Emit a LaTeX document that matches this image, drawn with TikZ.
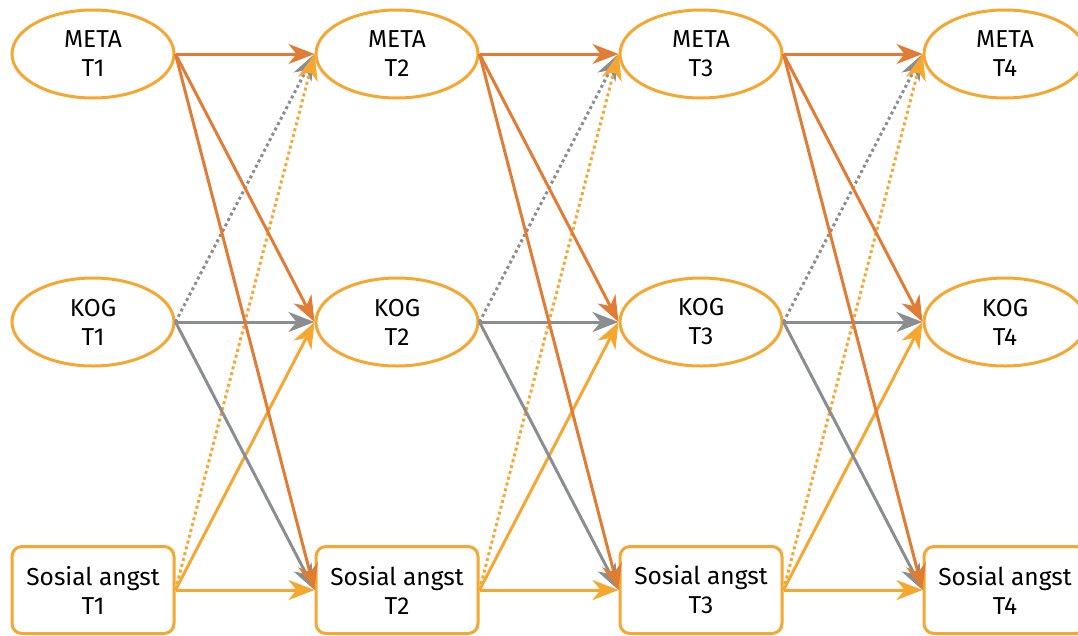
\documentclass[tikz,border=0pt]{standalone}
\usepackage{fontspec}
\setmainfont{Fira Sans}
\usetikzlibrary{positioning,arrows.meta,shapes.geometric}
\definecolor{gold}{HTML}{F5A732}
\definecolor{rust}{HTML}{E07C33}
\definecolor{slate}{HTML}{8B8E90}
\begin{document}
\begin{tikzpicture}[font=\fontsize{24.5}{29}\selectfont, node distance=139pt,
  ell/.style={draw=gold, ellipse, line width=3pt, align=center, minimum width=162pt, minimum height=88pt, inner sep=0pt},
  box/.style={draw=gold, rounded corners=10pt, line width=3pt, align=center, minimum width=162pt, minimum height=87pt, inner sep=0pt},
  arr/.style={-{Stealth[length=26pt, width=20pt, inset=8pt]}, line width=3pt},
  dot/.style={arr, dash pattern=on 3pt off 3pt}]
\useasboundingbox (0,0) rectangle (1078pt,-635pt);
% row META
\node[ell] (meta1) at (93pt,-54pt) {META\\T1};
\node[ell, right=of meta1] (meta2) {META\\T2};
\node[ell, right=of meta2] (meta3) {META\\T3};
\node[ell, right=of meta3] (meta4) {META\\T4};
% row KOG
\node[ell] (kog1) at (93pt,-322pt) {KOG\\T1};
\node[ell, right=of kog1] (kog2) {KOG\\T2};
\node[ell, right=of kog2] (kog3) {KOG\\T3};
\node[ell, right=of kog3] (kog4) {KOG\\T4};
% row Sosial angst
\node[box] (sa1) at (93pt,-590pt) {Sosial angst\\T1};
\node[box, right=of sa1] (sa2) {Sosial angst\\T2};
\node[box, right=of sa2] (sa3) {Sosial angst\\T3};
\node[box, right=of sa3] (sa4) {Sosial angst\\T4};
% paths between waves
\foreach \a/\b in {1/2,2/3,3/4}{
  \draw[dot, slate] (kog\a.east) -- (meta\b.west);
  \draw[dot, gold] (sa\a.east) -- (meta\b.west);
  \draw[arr, gold] (sa\a.east) -- (kog\b.west);
  \draw[arr, gold] (sa\a.east) -- (sa\b.west);
  \draw[arr, slate] (kog\a.east) -- (kog\b.west);
  \draw[arr, slate] (kog\a.east) -- (sa\b.west);
  \draw[arr, rust] (meta\a.east) -- (meta\b.west);
  \draw[arr, rust] (meta\a.east) -- (kog\b.west);
  \draw[arr, rust] (meta\a.east) -- (sa\b.west);
}
\end{tikzpicture}
\end{document}
